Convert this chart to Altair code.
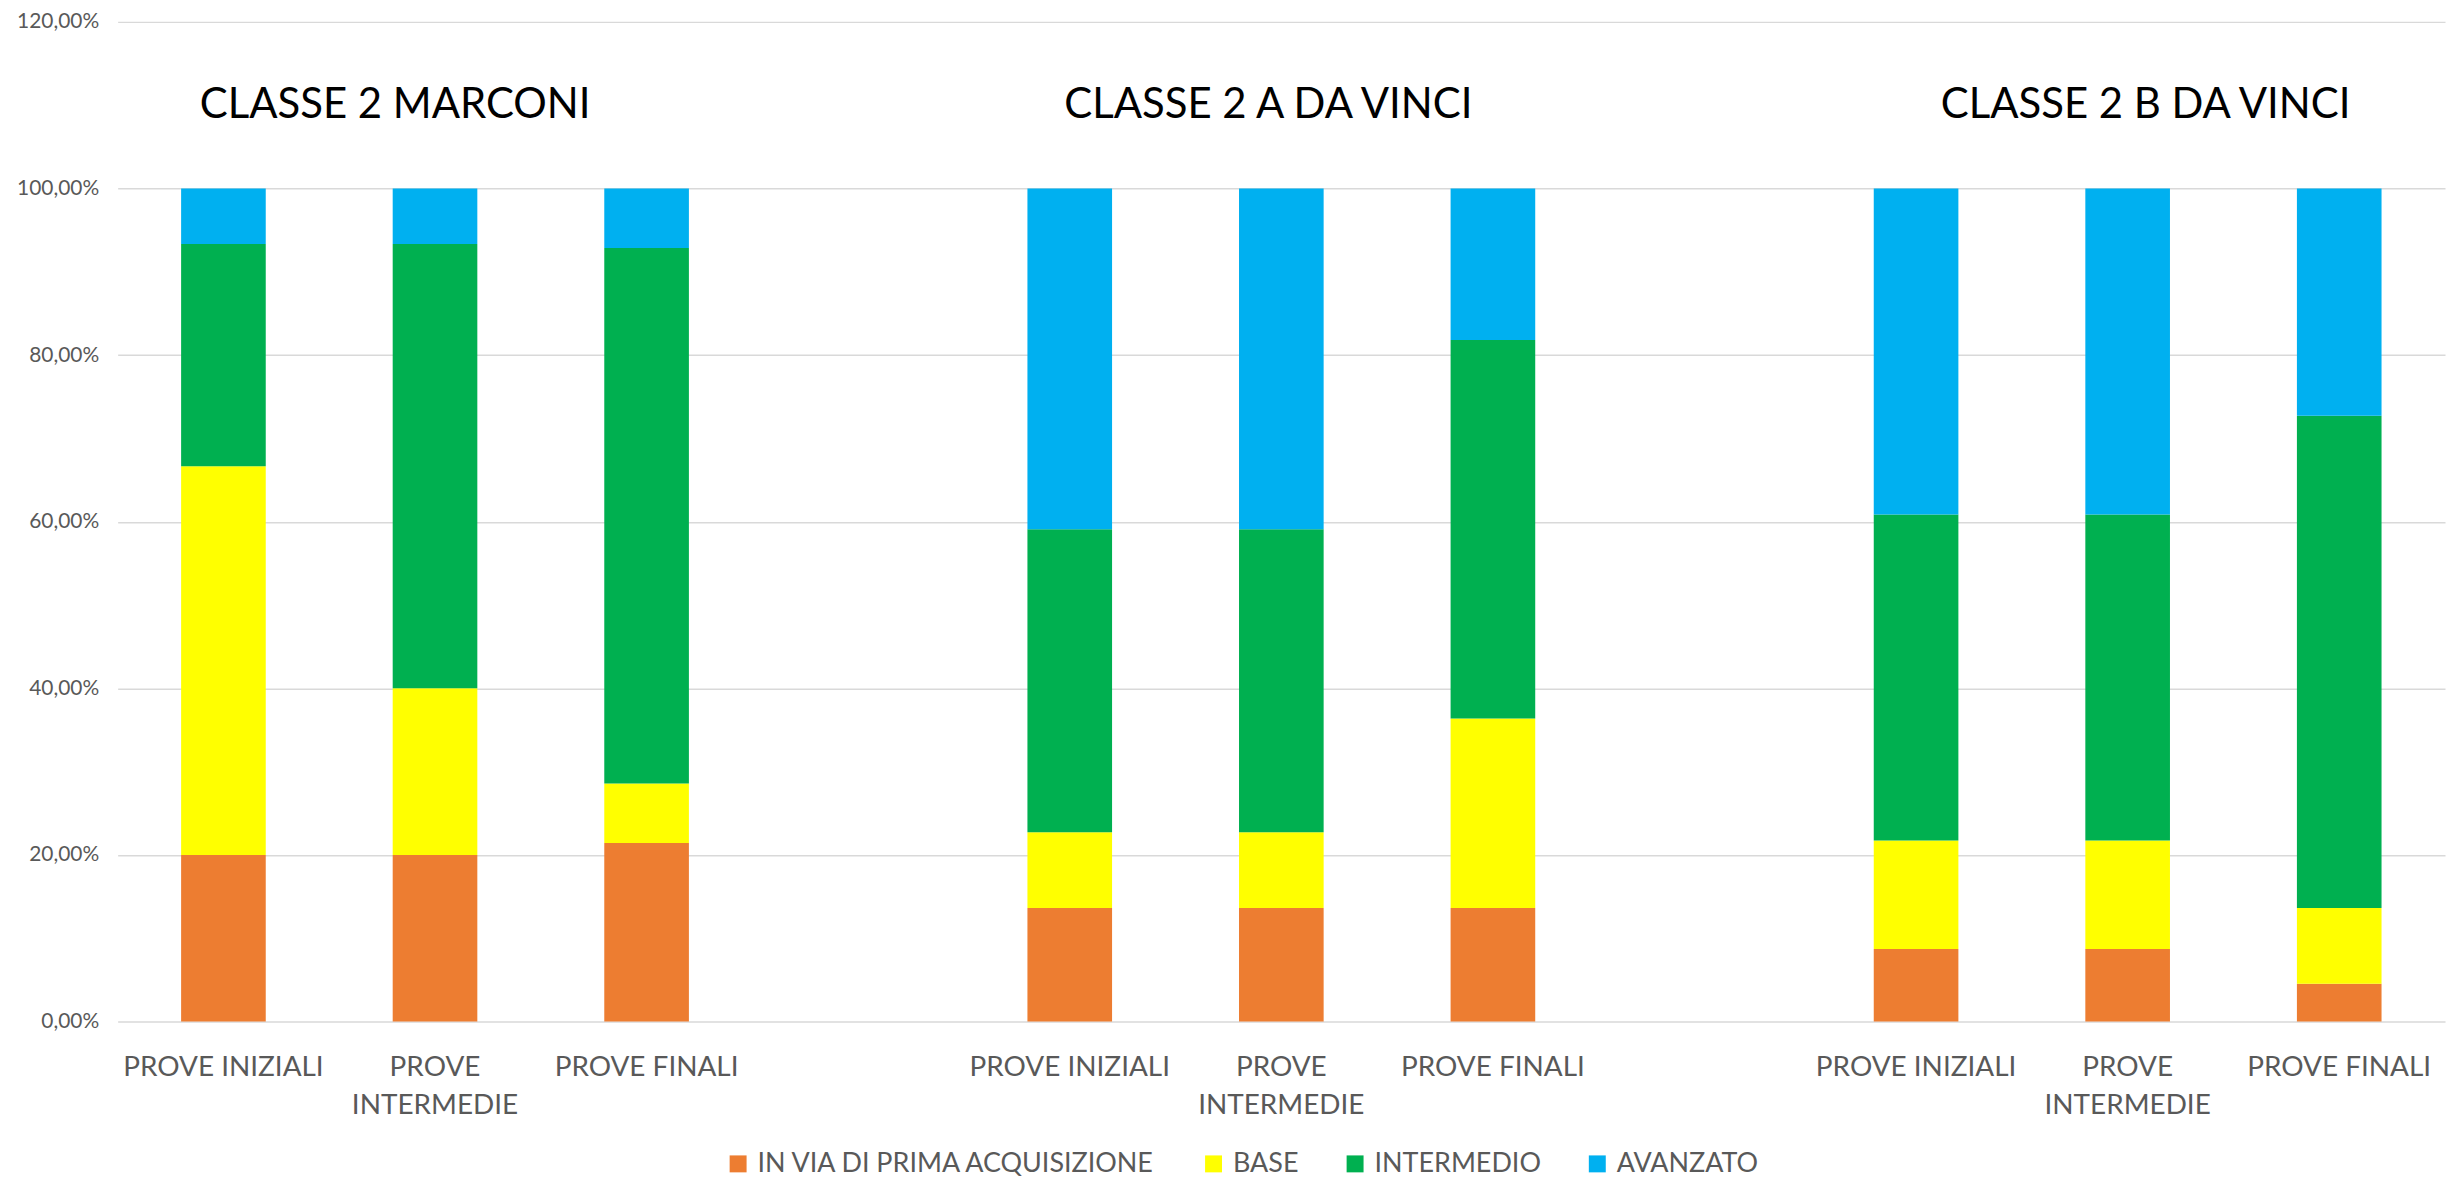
import altair as alt
import pandas as pd

groups = ["CLASSE 2 MARCONI", "CLASSE  2 A DA VINCI", "CLASSE 2 B DA VINCI"]
tests = ["PROVE INIZIALI", "PROVE|INTERMEDIE", "PROVE FINALI"]
levels = ["IN VIA DI PRIMA ACQUISIZIONE", "BASE", "INTERMEDIO", "AVANZATO"]
colors = ["#ED7D31", "#FFFF00", "#00B050", "#00B0F0"]

# percentages, bar order: Marconi (iniz, interm, fin), 2A (...), 2B (...)
v_prima = [20.00, 20.00, 21.43, 13.64, 13.64, 13.64, 8.70, 8.70, 4.55]
v_base = [46.67, 20.00, 7.14, 9.09, 9.09, 22.73, 13.04, 13.04, 9.09]
v_interm = [26.67, 53.33, 64.29, 36.36, 36.36, 45.45, 39.13, 39.13, 59.09]
v_avanz = [6.67, 6.67, 7.14, 40.91, 40.91, 18.18, 39.13, 39.13, 27.27]
y_ticks = [0, 20, 40, 60, 80, 100, 120]

series = [v_prima, v_base, v_interm, v_avanz]

# slot keys (11 slots, with an empty slot between groups)
slot_keys = []
bar_keys = []
for g in range(len(groups)):
    for t in range(len(tests)):
        k = f"{g*4+t}:{tests[t]}"
        slot_keys.append(k)
        bar_keys.append(k)
    if g < len(groups) - 1:
        slot_keys.append(f"{g*4+3}:")

rows = []
for li, lev in enumerate(levels):
    for bi, key in enumerate(bar_keys):
        rows.append({"slot": key, "level": lev, "rank": li, "value": series[li][bi]})
df = pd.DataFrame(rows)

FONT = "Lato"
GREY = "#595959"

x_scale = alt.Scale(domain=slot_keys, paddingInner=0.6, paddingOuter=0.3)

x_enc = alt.X(
    "slot:N",
    scale=x_scale,
    axis=alt.Axis(
        title=None, labelAngle=0, domain=False, ticks=False,
        labelExpr="split(split(datum.value, ':')[1], '|')",
        labelFont=FONT, labelFontSize=28, labelColor=GREY,
        labelPadding=32, labelLineHeight=38, labelLimit=0,
        labelBaseline="top",
    ),
)

bars = alt.Chart(df).mark_bar().encode(
    x=x_enc,
    y=alt.Y(
        "value:Q",
        stack="zero",
        scale=alt.Scale(domain=[0, 120], nice=False),
        axis=alt.Axis(
            title=None, values=y_ticks, domain=False, ticks=False,
            labelExpr="replace(format(datum.value, '.2f'), '.', ',') + '%'",
            labelFont=FONT, labelFontSize=21, labelColor=GREY, labelPadding=19,
            grid=True, gridColor="#D9D9D9", gridWidth=1.5,
        ),
    ),
    color=alt.Color(
        "level:N",
        scale=alt.Scale(domain=levels, range=colors),
        legend=alt.Legend(
            title=None, orient="none", direction="horizontal",
            legendX=609, legendY=1132,
            symbolType="square", symbolSize=289, symbolStrokeWidth=0,
            labelFont=FONT, labelFontSize=27, labelColor=GREY,
            labelOffset=6, columnPadding=43, padding=0, labelLimit=0,
        ),
    ),
    order=alt.Order("rank:Q", sort="ascending"),
)

title_offsets = [-40, -13, 18]
layers = [bars]
for g, name in enumerate(groups):
    tdf = pd.DataFrame({"slot": [bar_keys[g * 3 + 1]], "label": [name], "yv": [110]})
    layers.append(
        alt.Chart(tdf).mark_text(
            font=FONT, fontSize=42, color="#000000", baseline="middle",
            align="center", dx=title_offsets[g],
        ).encode(
            x=alt.X("slot:N", scale=x_scale),
            y=alt.Y("yv:Q"),
            text="label:N",
        )
    )

chart = alt.layer(*layers).properties(
    width=2335, height=1003,
    autosize=alt.AutoSizeParams(type="none"),
    padding={"left": 110, "top": 12, "right": 5, "bottom": 157},
).configure_view(stroke=None)

chart.save("out.html", embed_options={"renderer": "svg", "actions": False})
